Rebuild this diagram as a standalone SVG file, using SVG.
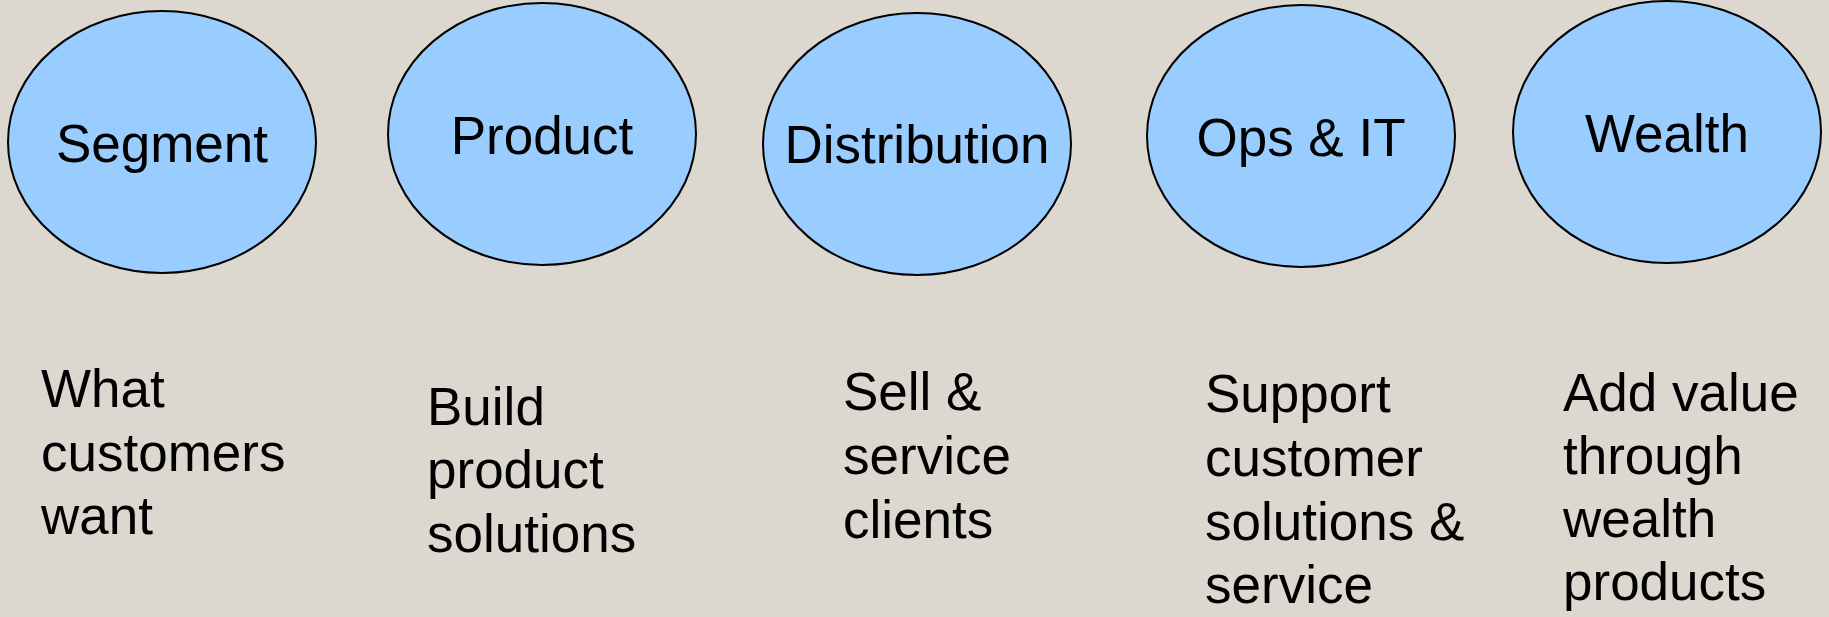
<svg xmlns="http://www.w3.org/2000/svg" width="1829" height="617" viewBox="0 0 1829 617">
<style>
.node ellipse{fill:#99ccff;stroke:#000;stroke-width:2}
.lbl{font-family:"Liberation Sans",Arial,sans-serif;font-size:53px;fill:#000;text-anchor:middle}
.desc{font-family:"Liberation Sans",Arial,sans-serif;font-size:53px;fill:#000}
</style>
<rect width="1829" height="617" fill="#dcd8d0"/>
<g id="segment" class="node">
<ellipse cx="162" cy="142" rx="154" ry="131"/>
<text class="lbl" x="162" y="162">Segment</text>
</g>
<g id="product" class="node">
<ellipse cx="542" cy="134" rx="154" ry="131"/>
<text class="lbl" x="542" y="154">Product</text>
</g>
<g id="distribution" class="node">
<ellipse cx="917" cy="144" rx="154" ry="131"/>
<text class="lbl" x="917" y="163">Distribution</text>
</g>
<g id="ops-it" class="node">
<ellipse cx="1301" cy="136" rx="154" ry="131"/>
<text class="lbl" x="1301" y="156">Ops &amp; IT</text>
</g>
<g id="wealth" class="node">
<ellipse cx="1667" cy="132" rx="154" ry="131"/>
<text class="lbl" x="1667" y="152">Wealth</text>
</g>
<g id="connectors"></g>
<g id="descriptions">
<text class="desc" x="41" y="407"><tspan x="41">What</tspan><tspan x="41" dy="63.6">customers</tspan><tspan x="41" dy="63.6">want</tspan></text>
<text class="desc" x="427" y="425"><tspan x="427">Build</tspan><tspan x="427" dy="63.3">product</tspan><tspan x="427" dy="63.3">solutions</tspan></text>
<text class="desc" x="843" y="410"><tspan x="843">Sell &amp;</tspan><tspan x="843" dy="64">service</tspan><tspan x="843" dy="64">clients</tspan></text>
<text class="desc" x="1205" y="412"><tspan x="1205">Support</tspan><tspan x="1205" dy="63.8">customer</tspan><tspan x="1205" dy="63.8">solutions &amp;</tspan><tspan x="1205" dy="63.8">service</tspan></text>
<text class="desc" x="1563" y="411"><tspan x="1563">Add value</tspan><tspan x="1563" dy="63">through</tspan><tspan x="1563" dy="63">wealth</tspan><tspan x="1563" dy="63">products</tspan></text>
</g>
</svg>
